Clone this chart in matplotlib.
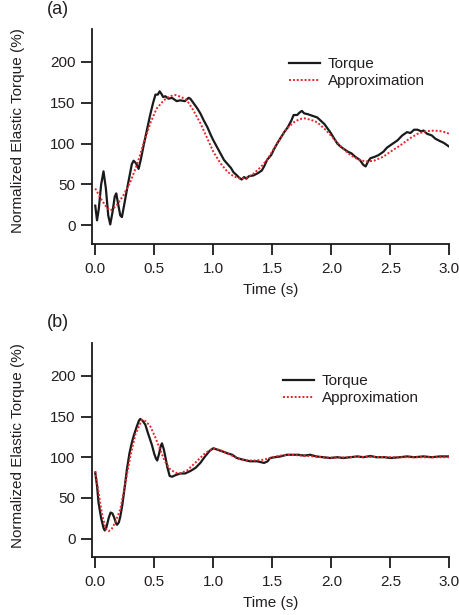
import matplotlib
matplotlib.use("Agg")
import matplotlib.pyplot as plt

plt.rcParams['font.family'] = ['Liberation Sans', 'DejaVu Sans']

# ---- Panel (a) data ----
ta_torque = [0.00, 0.015, 0.03, 0.05, 0.07, 0.09, 0.11, 0.127, 0.145, 0.165, 0.178, 0.195, 0.212, 0.226,
             0.245, 0.27, 0.29, 0.31, 0.325, 0.345, 0.367, 0.385, 0.41, 0.438, 0.465, 0.49, 0.51, 0.53,
             0.545, 0.56, 0.575, 0.593, 0.62, 0.65, 0.69, 0.72, 0.76, 0.79, 0.805, 0.83, 0.86, 0.89,
             0.92, 0.95, 0.98, 1.00, 1.03, 1.06, 1.09, 1.12, 1.15, 1.17, 1.20, 1.22, 1.24, 1.26, 1.28,
             1.30, 1.34, 1.38, 1.41, 1.43, 1.455, 1.49, 1.51, 1.54, 1.57, 1.60, 1.63, 1.66, 1.68, 1.71,
             1.73, 1.75, 1.77, 1.80, 1.84, 1.88, 1.91, 1.94, 1.97, 1.99, 2.02, 2.05, 2.08, 2.11, 2.14,
             2.17, 2.20, 2.24, 2.27, 2.29, 2.31, 2.33, 2.37, 2.40, 2.44, 2.47, 2.50, 2.53, 2.56, 2.60,
             2.64, 2.67, 2.70, 2.73, 2.76, 2.78, 2.81, 2.85, 2.88, 2.92, 2.95, 2.98, 3.00]
va_torque = [24, 6, 20, 50, 66, 45, 12, 1, 15, 35, 39, 25, 12, 10,
             25, 45, 60, 75, 79, 76, 69, 80, 98, 117, 135, 150, 160, 160,
             164, 161, 157, 158, 155, 156, 152, 153, 152, 156, 155, 150, 144, 137,
             128, 120, 110, 104, 96, 88, 80, 75, 70, 65, 61, 58, 56, 59, 57,
             60, 61, 64, 67, 72, 80, 86, 92, 100, 107, 114, 120, 128, 135, 135,
             138, 140, 137, 136, 134, 132, 128, 124, 118, 114, 107, 100, 96, 93, 90,
             88, 84, 80, 74, 72, 78, 82, 84, 86, 90, 95, 98, 101, 104, 110,
             114, 113, 117, 117, 115, 116, 112, 110, 106, 103, 101, 98, 96]

ta_approx = [0.00, 0.05, 0.10, 0.13, 0.18, 0.24, 0.30, 0.353, 0.41, 0.466, 0.52, 0.58, 0.63, 0.68, 0.73,
             0.777, 0.83, 0.89, 0.95, 1.00, 1.06, 1.116, 1.17, 1.23, 1.28, 1.34, 1.40, 1.455, 1.51,
             1.57, 1.62, 1.68, 1.73, 1.77, 1.83, 1.88, 1.95, 2.02, 2.09, 2.16, 2.22, 2.29, 2.36, 2.44,
             2.51, 2.585, 2.66, 2.73, 2.80, 2.87, 2.94, 3.00]
va_approx = [45, 32, 21, 18, 24, 37, 54, 74, 100, 125, 143, 153, 158, 159.5, 157,
             153, 141, 125, 106, 90, 76, 66, 60, 57, 58, 63, 71, 80, 93,
             107, 118, 126, 130, 131, 129, 126, 117, 106, 95, 86, 81, 78, 79, 84,
             91, 98, 106, 112, 115, 116, 115, 112]

# ---- Panel (b) data ----
tb_torque = [0.00, 0.015, 0.028, 0.05, 0.07, 0.08, 0.095, 0.115, 0.13, 0.145, 0.16, 0.175, 0.185, 0.20,
             0.212, 0.23, 0.25, 0.268, 0.29, 0.31, 0.325, 0.35, 0.37, 0.381, 0.40, 0.424, 0.45, 0.48,
             0.50, 0.515, 0.525, 0.54, 0.555, 0.565, 0.58, 0.593, 0.61, 0.63, 0.65, 0.68, 0.72, 0.76,
             0.805, 0.85, 0.89, 0.93, 0.97, 1.00, 1.04, 1.08, 1.116, 1.16, 1.20, 1.25, 1.31, 1.37,
             1.43, 1.46, 1.48, 1.52, 1.57, 1.62, 1.67, 1.72, 1.77, 1.82, 1.87, 1.93, 1.99, 2.05,
             2.10, 2.16, 2.22, 2.27, 2.33, 2.38, 2.45, 2.50, 2.58, 2.64, 2.70, 2.78, 2.85, 2.92, 3.00]
vb_torque = [81, 65, 44, 25, 13, 10, 14, 26, 32, 31, 26, 19, 17, 20,
             27, 42, 64, 85, 105, 118, 126, 137, 145, 147, 145, 140, 128, 115,
             104, 98, 96, 104, 114, 117, 110, 101, 88, 77, 76, 78, 80, 80,
             83, 87, 93, 101, 108, 111, 109, 107, 105, 103, 99, 97, 95, 95,
             93, 95, 99, 100, 101, 103, 103, 103, 102, 103, 101, 100, 99, 100,
             99, 100, 101, 100, 101.5, 100, 100, 99, 100, 101, 100, 101, 100, 101, 101]

tb_approx = [0.00, 0.03, 0.06, 0.09, 0.113, 0.14, 0.17, 0.212, 0.25, 0.297, 0.34, 0.395, 0.43, 0.466,
             0.51, 0.55, 0.59, 0.635, 0.68, 0.72, 0.78, 0.86, 0.93, 1.00, 1.07, 1.144, 1.21, 1.285,
             1.36, 1.43, 1.50, 1.57, 1.65, 1.75, 1.85, 1.95, 2.05, 2.15, 2.30, 2.50, 2.70, 2.85, 3.00]
vb_approx = [83, 55, 28, 12, 9, 12, 20, 36, 64, 101, 128, 146, 144, 138,
             124, 109, 95, 85, 81, 80, 84, 95, 105, 111, 108, 103, 98, 96,
             96, 97, 100, 102, 103, 102, 101, 99.5, 99.5, 100, 100.5, 100, 100, 100, 100]

x_ticks = [0.0, 0.5, 1.0, 1.5, 2.0, 2.5, 3.0]
x_ticklabels = ["0.0", "0.5", "1.0", "1.5", "2.0", "2.5", "3.0"]
y_ticks = [0, 50, 100, 150, 200]
y_ticklabels = ["0", "50", "100", "150", "200"]

W, H = 460, 615
fig = plt.figure(figsize=(W / 100, H / 100), dpi=100)

TXT = '#231f20'
RED = '#e8232b'

def px_axes(left, top, right, bottom):
    return [left / W, 1 - bottom / H, (right - left) / W, (bottom - top) / H]

panels = [
    dict(rect=px_axes(92.3, 29.3, 449.5, 244), label="(a)", label_y=10,
         tt=ta_torque, vt=va_torque, ta=ta_approx, va=va_approx,
         leg=(289, 57), ylab_y=0.528),
    dict(rect=px_axes(92.3, 343.3, 449.5, 557.3), label="(b)", label_y=323,
         tt=tb_torque, vt=vb_torque, ta=tb_approx, va=vb_approx,
         leg=(283, 374), ylab_y=0.522),
]

for p in panels:
    ax = fig.add_axes(p['rect'])
    ax.plot(p['tt'], p['vt'], color='#1a1a1a', lw=1.6, label='Torque')
    ax.plot(p['ta'], p['va'], color=RED, lw=1.4, linestyle=(0, (1, 1)), label='Approximation')
    ax.set_xlim(-0.025, 3.0)
    ax.set_ylim(-23, 240)
    for s in ['top', 'right']:
        ax.spines[s].set_visible(False)
    for s in ['left', 'bottom']:
        ax.spines[s].set_linewidth(1.3)
        ax.spines[s].set_color('#1a1a1a')
    ax.set_xticks(x_ticks)
    ax.set_xticklabels(x_ticklabels)
    ax.set_yticks(y_ticks)
    ax.set_yticklabels(y_ticklabels)
    ax.tick_params(direction='out', length=8, width=1.3, color='#1a1a1a',
                   labelsize=11, labelcolor=TXT, pad=4)
    ax.tick_params(axis='x', pad=5)
    ax.set_xlabel('Time (s)', fontsize=11, color=TXT, labelpad=5)
    ax.set_ylabel('Normalized Elastic Torque (%)', fontsize=11, color=TXT)
    ax.yaxis.set_label_coords(-0.188, p['ylab_y'])
    leg = ax.legend(loc='upper left', bbox_to_anchor=(p['leg'][0] / W, 1 - p['leg'][1] / H),
                    bbox_transform=fig.transFigure, frameon=False, fontsize=11,
                    handlelength=2.0, handletextpad=0.56, labelspacing=0.2,
                    borderpad=0, borderaxespad=0)
    for t in leg.get_texts():
        t.set_color(TXT)
    fig.text(58 / W, 1 - p['label_y'] / H, p['label'], fontsize=13, color=TXT,
             ha='center', va='center')

fig.savefig('out.png', dpi=100)
